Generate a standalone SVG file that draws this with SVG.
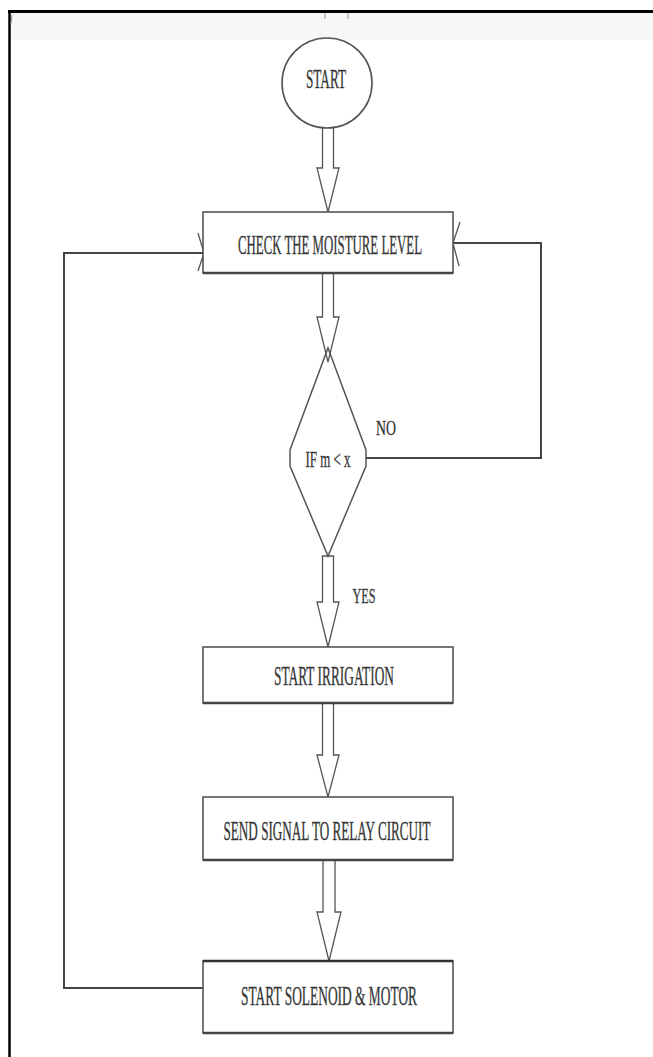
<svg xmlns="http://www.w3.org/2000/svg" width="653" height="1057" viewBox="0 0 653 1057">
<style>
.box{fill:#fff;stroke:#555;stroke-width:1.6}
.edge{stroke:#444;stroke-width:2;fill:none}
.harrow{fill:#fff;stroke:#555;stroke-width:1.3;stroke-linejoin:miter}
.chev{stroke:#555;stroke-width:1.3;fill:none}
.t{font-family:"Liberation Serif","Times New Roman",serif;fill:#333;stroke:#444;stroke-width:0.35;text-anchor:middle;dominant-baseline:central}
</style>
<rect x="0" y="0" width="653" height="1057" fill="#fff"/>
<rect x="10" y="13" width="643" height="27" fill="#f7f7f7"/>
<line x1="8" y1="11.5" x2="653" y2="11.5" stroke="#000" stroke-width="3"/>
<line x1="9.5" y1="10" x2="9.5" y2="1057" stroke="#000" stroke-width="2.5"/>
<g id="marks" stroke="#999" stroke-width="1">
<line x1="325" y1="13" x2="325" y2="19"/>
<line x1="348" y1="13" x2="348" y2="19"/>
<line x1="12" y1="15" x2="11" y2="24"/>
</g>
<g id="connectors">
<path class="edge" d="M366 458 H541 V243 H453"/>
<path class="chev" d="M460 222 L453 243 L459 266"/>
<path class="edge" d="M203 988 H64 V253 H203"/>
<path class="chev" d="M198 233 L204 253 L198 271"/>
<path class="harrow" d="M322.5 128 V168 H317 L328 212 L339 168 H333.5 V128"/>
<path class="harrow" d="M322.5 273 V317 H317 L328 362 L339 317 H333.5 V273"/>
<path class="harrow" d="M322.5 556 V602 H317 L328 647 L339 602 H333.5 V556 Z"/>
<path class="harrow" d="M322.5 703 V755 H317 L328 797 L339 755 H333.5 V703 Z"/>
<path class="harrow" d="M323 860 V912 H317 L329 961 L341 912 H335 V860"/>
</g>
<g id="start">
<circle cx="327" cy="83" r="45" fill="#fff" stroke="#555" stroke-width="1.6"/>
<text class="t" x="326" y="78" font-size="28" textLength="40" lengthAdjust="spacingAndGlyphs">START</text>
</g>
<g id="check">
<rect class="box" x="203" y="212" width="250" height="61"/>
<line x1="203" y1="273" x2="453" y2="273" stroke="#444" stroke-width="2.5"/>
<text class="t" x="330" y="245" font-size="27" textLength="184" lengthAdjust="spacingAndGlyphs">CHECK THE MOISTURE LEVEL</text>
</g>
<g id="decision">
<path d="M328 348 L366 450 V466 L328 556 L290 466 V450 Z" fill="none" stroke="#555" stroke-width="1.5"/>
<text class="t" x="328" y="459" font-size="24" textLength="45" lengthAdjust="spacingAndGlyphs">IF m &lt; x</text>
</g>
<text class="t" x="386" y="427" font-size="22" textLength="20" lengthAdjust="spacingAndGlyphs">NO</text>
<text class="t" x="364" y="595" font-size="22" textLength="23" lengthAdjust="spacingAndGlyphs">YES</text>
<g id="irrigation">
<rect class="box" x="203" y="647" width="250" height="56"/>
<line x1="203" y1="703" x2="453" y2="703" stroke="#444" stroke-width="2.5"/>
<text class="t" x="334" y="676" font-size="27" textLength="120" lengthAdjust="spacingAndGlyphs">START IRRIGATION</text>
</g>
<g id="relay">
<rect class="box" x="203" y="797" width="250" height="63"/>
<line x1="203" y1="860" x2="453" y2="860" stroke="#444" stroke-width="2.5"/>
<text class="t" x="327" y="831" font-size="27" textLength="207" lengthAdjust="spacingAndGlyphs">SEND SIGNAL TO RELAY CIRCUIT</text>
</g>
<g id="solenoid">
<rect class="box" x="203" y="961" width="250" height="72"/>
<line x1="203" y1="961" x2="453" y2="961" stroke="#333" stroke-width="2.5"/>
<line x1="203" y1="1033" x2="453" y2="1033" stroke="#444" stroke-width="2.5"/>
<text class="t" x="329" y="996" font-size="27" textLength="176" lengthAdjust="spacingAndGlyphs">START SOLENOID &amp; MOTOR</text>
</g>
</svg>
